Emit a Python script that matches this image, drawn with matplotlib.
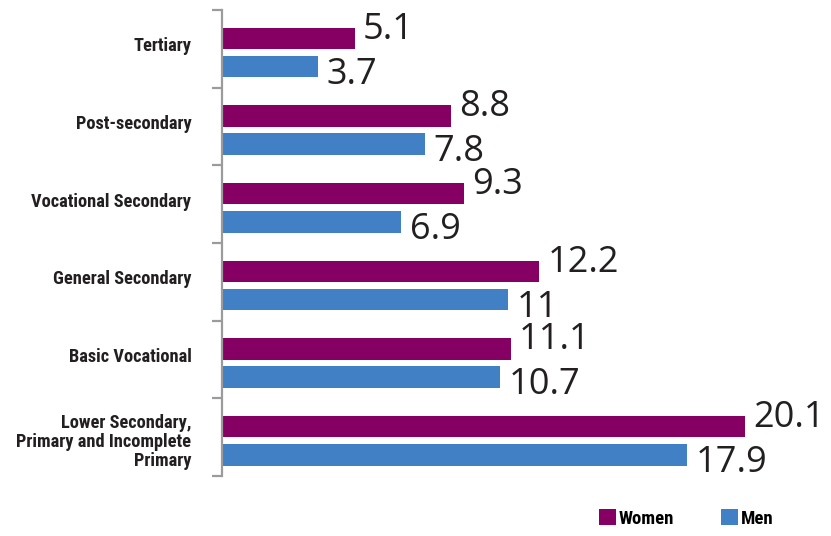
import matplotlib
matplotlib.use("Agg")
import matplotlib.pyplot as plt
from matplotlib import font_manager
import numpy as np

categories = ["Tertiary", "Post-secondary", "Vocational Secondary", "General Secondary",
              "Basic Vocational", "Lower Secondary,\nPrimary and Incomplete\nPrimary"]
women = [5.1, 8.8, 9.3, 12.2, 11.1, 20.1]
men = [3.7, 7.8, 6.9, 11.0, 10.7, 17.9]
women_labels = ["5.1", "8.8", "9.3", "12.2", "11.1", "20.1"]
men_labels = ["3.7", "7.8", "6.9", "11", "10.7", "17.9"]

avail = {f.name for f in font_manager.fontManager.ttflist}
cond = None
for c in ["Liberation Sans Narrow", "DejaVu Sans Condensed", "Roboto Condensed", "Open Sans Condensed"]:
    if c in avail:
        cond = c
        break
if cond is None:
    cond = "DejaVu Sans"
numfont = "Open Sans" if "Open Sans" in avail else "DejaVu Sans"

WOMEN_C = "#860064"
MEN_C = "#4180C4"
SPINE_C = "#9b9b9b"

fig = plt.figure(figsize=(8.31, 5.36), dpi=100)
ax = fig.add_axes([222/831, 1-476/536, 1-222/831, 466/536])

y = np.arange(len(categories))
h = 0.278
bw = ax.barh(y - 0.135, women, height=h, color=WOMEN_C, label="Women")
bm = ax.barh(y + 0.228, men, height=h, color=MEN_C, label="Men")

ax.set_xlim(0, 609/26.0)
ax.set_ylim(len(categories) - 0.5, -0.5)

for yi, v, s in zip(y, women, women_labels):
    ax.annotate(s, (v, yi - 0.135 - h/2), xytext=(6, -1.5), textcoords="offset points",
                ha="left", va="center", fontsize=26, family=numfont, color="#231f20")
for yi, v, s in zip(y, men, men_labels):
    ax.annotate(s, (v, yi + 0.228 + h/2), xytext=(6, 2), textcoords="offset points",
                ha="left", va="center", fontsize=26, family=numfont, color="#231f20")

for sp in ["top", "right", "bottom"]:
    ax.spines[sp].set_visible(False)
ax.spines["left"].set_color(SPINE_C)
ax.spines["left"].set_linewidth(1.6)
ax.set_xticks([])
label_pos = [yi - 0.06 for yi in y[:-1]] + [y[-1] + 0.03]
ax.set_yticks(label_pos)
ax.set_yticklabels(categories, family=cond, fontweight="bold", fontsize=13.2,
                   color="#231f20", linespacing=1.08)
ax.set_yticks(np.arange(len(categories) + 1) - 0.5, minor=True)
ax.tick_params(axis="y", which="major", length=0, pad=22)
ax.tick_params(axis="y", which="minor", length=7, width=1.6, color=SPINE_C)

fig.legend(handles=[bw, bm], labels=["Women", "Men"], loc="lower left",
           bbox_to_anchor=(582/831, -0.016), ncol=2, frameon=False,
           handlelength=0.9, handleheight=0.9, handletextpad=0.15, columnspacing=2.5,
           prop={"family": cond, "weight": "bold", "size": 13.5})

fig.savefig("out.png", dpi=100)
